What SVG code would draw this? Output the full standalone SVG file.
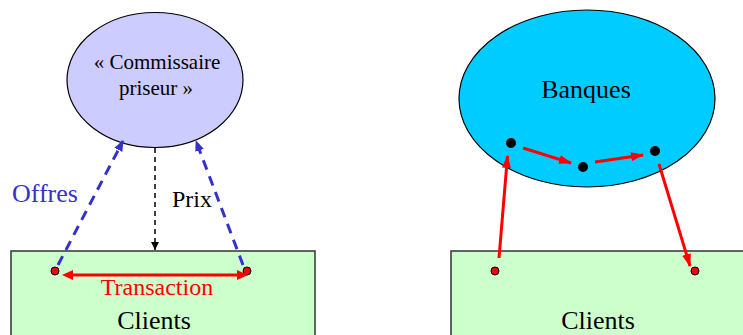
<svg xmlns="http://www.w3.org/2000/svg" width="743" height="335" viewBox="0 0 743 335">
<style>
.t{font-family:'Liberation Serif','Times New Roman','DejaVu Serif',serif}
.box{fill:#ccffcc;stroke:#333;stroke-width:1.5}
.rdot{fill:#ff0000;stroke:#000;stroke-width:1}
.bdot{fill:#000}
.red{stroke:#ff0000;stroke-width:3;fill:none}
.blue{stroke:#3333cc;stroke-width:3;fill:none;stroke-dasharray:10 7}
</style>
<defs>
<marker id="ar" markerWidth="13" markerHeight="10" refX="12" refY="5" orient="auto" markerUnits="userSpaceOnUse" viewBox="0 0 13 10"><path d="M0,0.5 L13,5 L0,9.5 z" fill="#ff0000"/></marker>
<marker id="ab" markerWidth="11" markerHeight="10" refX="10" refY="5" orient="auto" markerUnits="userSpaceOnUse" viewBox="0 0 11 10"><path d="M0,0.5 L11,5 L0,9.5 z" fill="#3333cc"/></marker>
<marker id="ak" markerWidth="8" markerHeight="8" refX="8" refY="4" orient="auto" markerUnits="userSpaceOnUse" viewBox="0 0 8 8"><path d="M0,0 L8,4 L0,8 z" fill="#000"/></marker>
<marker id="arS" markerWidth="11" markerHeight="10" refX="1" refY="5" orient="auto-start-reverse" markerUnits="userSpaceOnUse" viewBox="0 0 11 10"><path d="M0,0 L11,5 L0,10 z" fill="#ff0000"/></marker>
</defs>
<g id="commissaire">
<ellipse cx="155" cy="80" rx="88" ry="67.5" fill="#ccccff" stroke="#000" stroke-width="1.2"/>
<text class="t" x="157" y="69" font-size="21" text-anchor="middle">« Commissaire</text>
<text class="t" x="156" y="95" font-size="21" text-anchor="middle">priseur »</text>
</g>
<g id="clients-left">
<rect class="box" x="11" y="251" width="304" height="100"/>
<text class="t" x="154" y="329" font-size="26" text-anchor="middle">Clients</text>
<circle class="rdot" cx="55" cy="271" r="4"/>
<circle class="rdot" cx="247" cy="271" r="4"/>
</g>
<g id="banques">
<ellipse cx="587" cy="98.5" rx="128" ry="88.5" fill="#00ccff" stroke="#000" stroke-width="1.2"/>
<text class="t" x="586" y="98" font-size="26" text-anchor="middle">Banques</text>
<circle class="bdot" cx="511" cy="143" r="5"/>
<circle class="bdot" cx="583" cy="167" r="5"/>
<circle class="bdot" cx="655" cy="151" r="5"/>
</g>
<g id="clients-right">
<rect class="box" x="451" y="251" width="310" height="100"/>
<text class="t" x="598" y="329" font-size="26" text-anchor="middle">Clients</text>
<circle class="rdot" cx="495" cy="271" r="4"/>
<circle class="rdot" cx="695" cy="271" r="4"/>
</g>
<g id="connectors">
<line class="blue" x1="58" y1="265" x2="123" y2="141" marker-end="url(#ab)"/>
<line class="blue" x1="243" y1="265" x2="196" y2="141" marker-end="url(#ab)"/>
<line x1="155" y1="148" x2="155" y2="250" stroke="#000" stroke-width="1.5" stroke-dasharray="5 4" marker-end="url(#ak)"/>
<line class="red" x1="72" y1="275" x2="238" y2="275" marker-start="url(#arS)" marker-end="url(#arS)"/>
<path class="red" d="M499,258 L507.5,156" marker-end="url(#ar)"/>
<path class="red" d="M523,148 L571,163" marker-end="url(#ar)"/>
<path class="red" d="M595,162 L643,155" marker-end="url(#ar)"/>
<path class="red" d="M659,164 L690,266" marker-end="url(#ar)"/>
<text class="t" x="12" y="202" font-size="26" fill="#3333cc">Offres</text>
<text class="t" x="172" y="207" font-size="24">Prix</text>
<text class="t" x="157" y="295" font-size="24" fill="#ff0000" text-anchor="middle">Transaction</text>
</g>
</svg>
